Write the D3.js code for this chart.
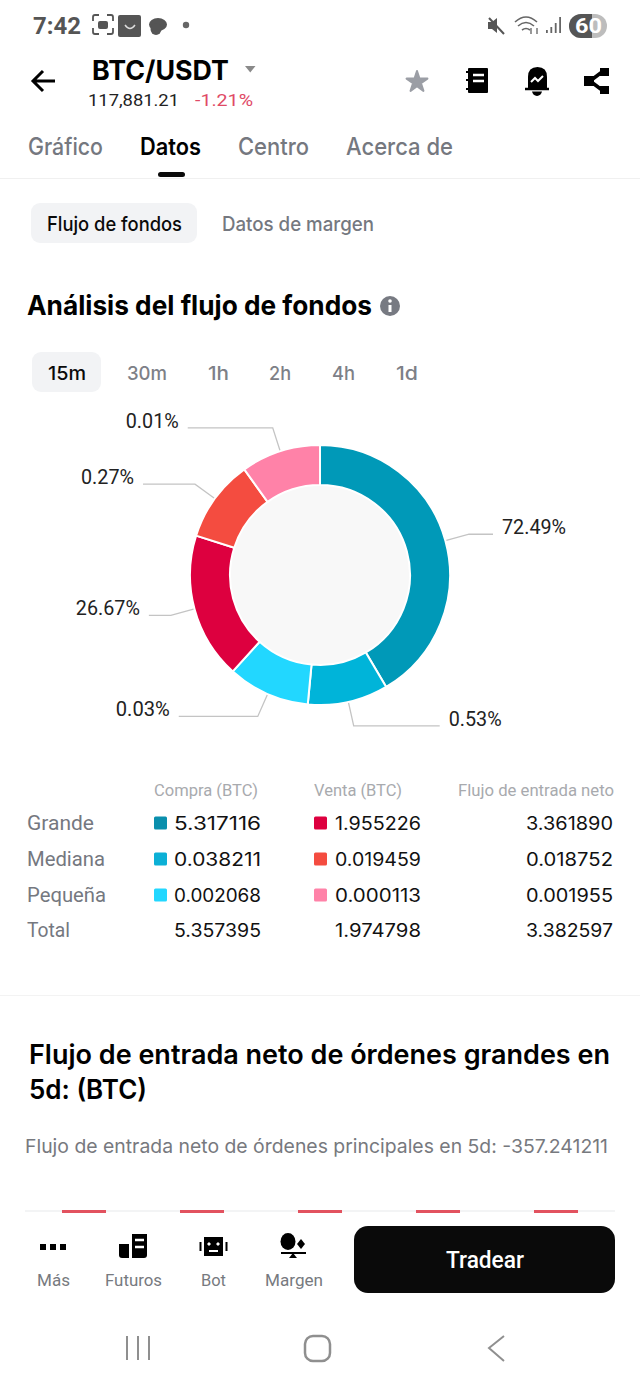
<!DOCTYPE html>
<html>
<head>
<meta charset="utf-8">
<title>BTC/USDT - Flujo de fondos</title>
<script src="https://cdn.jsdelivr.net/npm/d3@7/dist/d3.min.js"></script>
<style>
  html, body { margin: 0; padding: 0; background: #fff; }
  svg { display: block; }
  text { font-family: Inter, Roboto, "Noto Sans", sans-serif; }
</style>
</head>
<body>
<svg id="screen" width="640" height="1387"></svg>
<script>
// ===== DATA =====
const sliceNames = ["Compra grande", "Compra mediana", "Compra pequeña", "Venta grande", "Venta mediana", "Venta pequeña"];
const sliceShares = [72.49, 0.53, 0.03, 26.67, 0.27, 0.01];
// the ring does not draw the shares to scale, small ones get a floor.
const sliceWeights = [41.5, 10, 10.2, 18.2, 10.2, 9.9];

const tableRows = ["Grande", "Mediana", "Pequeña", "Total"];
const buyValues = ["5.317116", "0.038211", "0.002068", "5.357395"];
const sellValues = ["1.955226", "0.019459", "0.000113", "1.974798"];
const netValues = ["3.361890", "0.018752", "0.001955", "3.382597"];

const tabs = ["Gráfico", "Datos", "Centro", "Acerca de"];
const timeframes = ["15m", "30m", "1h", "2h", "4h", "1d"];
const navLabels = ["Más", "Futuros", "Bot", "Margen"];
const peekBars = ["d1", "d2", "d3", "d4", "d5"];

// ===== STYLE / LAYOUT =====
const sliceColors = ["#0099b8", "#00b4d9", "#22d7ff", "#dd003f", "#f44c40", "#ff82a8"];
const buyColors = ["#0a8fad", "#0cb0d6", "#22d7ff"];
const sellColors = ["#dd003f", "#f44c40", "#ff82a8"];
const leaderRuns = [24, 86, 79, 22, 52, 85];
const labelWidths = [64, 53, 54, 64, 53, 53];
const tabBoxes = [[28, 75], [140, 61], [238, 71], [346, 107]];
const timeBoxes = [[48, 38], [127, 40], [208, 21], [269, 22], [332, 23], [396, 22]];
const navBoxes = [[37, 33], [105, 57], [201, 25], [265, 58]];
const rowBaselines = [830, 866, 902, 937];

const svg = d3.select("#screen");

// text squeezed to the measured width, the screenshot is narrowed horizontally
function label(parent, str, x, y, width, size, fill, weight, family) {
  const t = parent.append("text")
    .attr("x", x)
    .attr("y", y)
    .attr("font-size", size)
    .attr("fill", fill)
    .attr("font-weight", weight || 400)
    .text(str);
  if (width) t.attr("textLength", width).attr("lengthAdjust", "spacingAndGlyphs");
  if (family) t.style("font-family", family);
  return t;
}

// ===== STATUS BAR =====
function drawStatusBar() {
  const g = svg.append("g");
  label(g, "7:42", 33, 34, 48, 24, "#555", 700, "Roboto");

  // screenshot glyph
  g.append("path").attr("d", "M93 21v-4q0-2 2-2h4M107 15h4q2 0 2 2v4M113 28v4q0 2-2 2h-4M99 34h-4q-2 0-2-2v-4")
    .attr("fill", "none").attr("stroke", "#555").attr("stroke-width", 1.8);
  g.append("rect").attr("x", 98).attr("y", 21).attr("width", 10).attr("height", 8).attr("rx", 2).attr("fill", "#555");
  // app badge
  g.append("rect").attr("x", 118).attr("y", 15).attr("width", 23).attr("height", 22).attr("rx", 2).attr("fill", "#555");
  g.append("path").attr("d", "M125 25q5 7 10 0").attr("fill", "none").attr("stroke", "#ddd").attr("stroke-width", 1.4);
  // chat bubbles
  g.append("ellipse").attr("cx", 158).attr("cy", 24.5).attr("rx", 9).attr("ry", 6.5).attr("fill", "#555");
  g.append("ellipse").attr("cx", 156).attr("cy", 29).attr("rx", 5.5).attr("ry", 6).attr("fill", "#555");
  g.append("circle").attr("cx", 186).attr("cy", 25).attr("r", 3.2).attr("fill", "#666");

  // mute
  g.append("path").attr("d", "M488 22h4l5-4v15l-5-4h-4z").attr("fill", "#555");
  g.append("path").attr("d", "M489 18l15 16").attr("stroke", "#555").attr("stroke-width", 2);
  // wifi
  g.append("path").attr("d", "M515 22q11-10 22 0M518 26q8-7 16 0M522 30q4-3 8 0")
    .attr("fill", "none").attr("stroke", "#666").attr("stroke-width", 1.6);
  g.append("path").attr("d", "M531 28v6M537 34v-6").attr("stroke", "#555").attr("stroke-width", 1.2);
  // signal
  g.selectAll(".sig").data([3, 6, 10, 16]).enter().append("rect")
    .attr("x", (d, i) => 546 + i * 4.4).attr("y", d => 33 - d)
    .attr("width", 1.8).attr("height", d => d).attr("fill", "#666");
  // battery
  g.append("rect").attr("x", 569).attr("y", 14).attr("width", 38).attr("height", 24).attr("rx", 12).attr("fill", "#bdbdbd");
  g.append("path").attr("d", "M581 14h11v24h-11a12 12 0 0 1 0-24z").attr("fill", "#555");
  label(g, "60", 575, 33, 27, 21, "#fff", 700, "Roboto");
}

// ===== HEADER =====
function drawHeader() {
  const g = svg.append("g");
  g.append("path").attr("d", "M55 81H34M43 71L33 81l10 10")
    .attr("fill", "none").attr("stroke", "#000").attr("stroke-width", 3);
  label(g, "BTC/USDT", 92, 80, 137, 27, "#000", 700);
  g.append("path").attr("d", "M245 66h10.500l-5.250 6.500z").attr("fill", "#8a8a8a");
  label(g, "117,881.21", 88, 106, 91, 16, "#222", 400, "Roboto");
  label(g, "-1.21%", 195, 106, 58, 16, "#df4a66", 400, "Roboto");

  // star
  const star = d3.symbol().type(d3.symbolStar).size(135);
  g.append("path").attr("d", star()).attr("transform", "translate(417,82)")
    .attr("fill", "#9b9ea5").attr("stroke", "#9b9ea5").attr("stroke-width", 2).attr("stroke-linejoin", "round");
  // notebook
  g.append("rect").attr("x", 468).attr("y", 68).attr("width", 20).attr("height", 25).attr("rx", 1).attr("fill", "#000");
  g.append("path").attr("d", "M466 72h4M466 80h4M466 89h4").attr("stroke", "#000").attr("stroke-width", 2);
  g.append("path").attr("d", "M473 75h11M473 81h11").attr("stroke", "#fff").attr("stroke-width", 2.5);
  // bell
  g.append("path").attr("d", "M528 88V77q0-10 9.500-10t9.500 10v11z").attr("fill", "#000");
  g.append("path").attr("d", "M525 89h24").attr("stroke", "#000").attr("stroke-width", 2.5);
  g.append("path").attr("d", "M532 91.500h10q-1 4-5 4.500q-4-.5-5-4.500z").attr("fill", "#000");
  g.append("path").attr("d", "M531 82l4-4 3 3 5-5").attr("fill", "none").attr("stroke", "#fff").attr("stroke-width", 2);
  // share
  g.append("path").attr("d", "M590 81l12-9M590 81l12 9").attr("stroke", "#000").attr("stroke-width", 3.500);
  g.append("rect").attr("x", 584).attr("y", 76).attr("width", 10).attr("height", 10).attr("fill", "#000");
  g.append("rect").attr("x", 600).attr("y", 68).attr("width", 9).attr("height", 8).attr("fill", "#000");
  g.append("rect").attr("x", 600).attr("y", 86).attr("width", 9).attr("height", 8).attr("fill", "#000");

  // tabs
  tabs.forEach((d, i) => {
    const on = d === "Datos";
    label(g, d, tabBoxes[i][0], 155, tabBoxes[i][1], 24, on ? "#000" : "#75787f", on ? 600 : 500);
  });
  g.append("rect").attr("x", 158).attr("y", 172).attr("width", 27).attr("height", 5).attr("rx", 2.5).attr("fill", "#0a0a0a");
  g.append("rect").attr("x", 0).attr("y", 178).attr("width", 640).attr("height", 1).attr("fill", "#f0f0f0");

  // sub tabs
  g.append("rect").attr("x", 31).attr("y", 203).attr("width", 166).attr("height", 40).attr("rx", 9).attr("fill", "#f2f3f5");
  label(g, "Flujo de fondos", 47, 231, 135, 20, "#0a0a0a", 500);
  label(g, "Datos de margen", 222, 231, 152, 20, "#75787f", 500);

  // section title
  label(g, "Análisis del flujo de fondos", 27, 315, 345, 27, "#000", 700);
  g.append("circle").attr("cx", 390).attr("cy", 306).attr("r", 10).attr("fill", "#777a82");
  g.append("rect").attr("x", 388.500).attr("y", 305).attr("width", 3).attr("height", 7).attr("fill", "#fff");
  g.append("circle").attr("cx", 390).attr("cy", 301).attr("r", 1.800).attr("fill", "#fff");

  // timeframes
  g.append("rect").attr("x", 32).attr("y", 352).attr("width", 69).attr("height", 40).attr("rx", 9).attr("fill", "#f2f3f5");
  timeframes.forEach((d, i) => {
    const on = d === "15m";
    label(g, d, timeBoxes[i][0], 380, timeBoxes[i][1], 19, on ? "#0a0a0a" : "#7d8087", 500);
  });
}

// ===== DONUT =====
function drawDonut() {
  const cx = 320, cy = 575, outerR = 130, innerR = 90, elbowR = 154.5, startR = 131;
  const g = svg.append("g").attr("transform", `translate(${cx},${cy})`);

  const pie = d3.pie().sort(null).value(d => d.weight);
  const arcs = pie(sliceNames.map((name, i) => ({ name, share: sliceShares[i], weight: sliceWeights[i], i })));
  const arc = d3.arc().innerRadius(innerR).outerRadius(outerR);

  g.append("circle").attr("r", innerR).attr("fill", "#f8f8f8");

  g.selectAll(".slice").data(arcs).enter().append("path")
    .attr("class", "slice")
    .attr("d", arc)
    .attr("fill", d => sliceColors[d.data.i])
    .attr("stroke", "#fff")
    .attr("stroke-width", 2);

  // leader lines go out along the middle of each slice, then run flat to the label
  const startArc = d3.arc().innerRadius(startR).outerRadius(startR);
  const elbowArc = d3.arc().innerRadius(elbowR).outerRadius(elbowR);
  const line = d3.line();

  arcs.forEach(d => {
    const i = d.data.i;
    const p0 = startArc.centroid(d);
    const p1 = elbowArc.centroid(d);
    const mid = (d.startAngle + d.endAngle) / 2;
    const right = mid < Math.PI;
    const p2 = [p1[0] + (right ? leaderRuns[i] : -leaderRuns[i]), p1[1]];

    g.append("path")
      .attr("d", line([p0, p1, p2]))
      .attr("fill", "none")
      .attr("stroke", "#c4c4c4")
      .attr("stroke-width", 1.3);

    const w = labelWidths[i];
    const x = right ? p2[0] + 9 : p2[0] - 9 - w;
    label(g, d.data.share.toFixed(2) + "%", x, p1[1], w, 20, "#222", 400, "Roboto");
  });
}

// ===== TABLE =====
function drawTable() {
  const g = svg.append("g");
  label(g, "Compra (BTC)", 154, 796, 104, 16, "#a8aaae", 400, "Roboto");
  label(g, "Venta (BTC)", 314, 796, 88, 16, "#a8aaae", 400, "Roboto");
  label(g, "Flujo de entrada neto", 458, 796, 156, 16, "#a8aaae", 400, "Roboto");

  const rowWidths = [67, 78, 79, 43];
  tableRows.forEach((row, i) => {
    const y = rowBaselines[i];
    label(g, row, 27, y, rowWidths[i], 20, "#75787f", 400, "Roboto");
    label(g, buyValues[i], 174, y, 87, 18, "#111", 400);
    label(g, sellValues[i], 335, y, 86, 18, "#111", 400);
    label(g, netValues[i], 526, y, 87, 18, "#111", 400);
    if (i < 3) {
      g.append("rect").attr("x", 154).attr("y", y - 13.5).attr("width", 13).attr("height", 13).attr("rx", 1.500).attr("fill", buyColors[i]);
      g.append("rect").attr("x", 314).attr("y", y - 13.5).attr("width", 13).attr("height", 13).attr("rx", 1.500).attr("fill", sellColors[i]);
    }
  });
  g.append("rect").attr("x", 0).attr("y", 995).attr("width", 640).attr("height", 1).attr("fill", "#f3f3f3");
}

// ===== LOWER SECTION =====
function drawLower() {
  const g = svg.append("g");
  label(g, "Flujo de entrada neto de órdenes grandes en", 29, 1064, 581, 27, "#000", 600);
  label(g, "5d: (BTC)", 29, 1099, 118, 27, "#000", 600);
  label(g, "Flujo de entrada neto de órdenes principales en 5d: -357.241211", 25, 1153, 583, 19, "#77797e", 400);

  // top of the next chart, just peeking out above the bar
  g.append("rect").attr("x", 25).attr("y", 1210).attr("width", 590).attr("height", 2).attr("fill", "#f3f4f5");
  const x = d3.scaleBand().domain(peekBars).range([25, 615]).paddingInner(0.627).paddingOuter(0.3135);
  g.selectAll(".peek").data(peekBars).enter().append("rect")
    .attr("class", "peek")
    .attr("x", d => x(d))
    .attr("y", 1210)
    .attr("width", x.bandwidth())
    .attr("height", 3)
    .attr("fill", "#e2525f");
}

// ===== BOTTOM BAR =====
function drawBottomBar() {
  const g = svg.append("g");
  g.append("rect").attr("x", 0).attr("y", 1213).attr("width", 640).attr("height", 174).attr("fill", "#fff");

  navLabels.forEach((d, i) => label(g, d, navBoxes[i][0], 1286, navBoxes[i][1], 16, "#777a80", 400, "Roboto"));

  // dots
  [40, 50, 60].forEach(x => g.append("rect").attr("x", x).attr("y", 1244).attr("width", 6).attr("height", 6).attr("fill", "#000"));
  // futures
  g.append("path").attr("d", "M132 1234h15v21q0 3-3 3h-12z").attr("fill", "#000");
  g.append("path").attr("d", "M119 1244h10v14h-7q-3 0-3-3z").attr("fill", "#000");
  g.append("path").attr("d", "M135 1240h9M135 1247h9").attr("stroke", "#fff").attr("stroke-width", 2.5);
  // bot
  g.append("rect").attr("x", 204).attr("y", 1237).attr("width", 19).attr("height", 19).attr("fill", "#000");
  g.append("path").attr("d", "M200.500 1242v9M226.500 1242v9").attr("stroke", "#000").attr("stroke-width", 2);
  g.append("path").attr("d", "M209 1242l2 2-2 2-2-2zM218 1242l2 2-2 2-2-2z").attr("fill", "#fff");
  g.append("path").attr("d", "M209 1251h9").attr("stroke", "#fff").attr("stroke-width", 2);
  // margin
  g.append("ellipse").attr("cx", 288).attr("cy", 1241.500).attr("rx", 7.500).attr("ry", 8.500).attr("fill", "#000");
  g.append("path").attr("d", "M301 1239l4 5-4 5-4-5z").attr("fill", "#000");
  g.append("path").attr("d", "M281 1253h25").attr("stroke", "#000").attr("stroke-width", 2);
  g.append("path").attr("d", "M293 1253l4 5h-8z").attr("fill", "#000");

  g.append("rect").attr("x", 354).attr("y", 1226).attr("width", 261).attr("height", 67).attr("rx", 14).attr("fill", "#0a0a0a");
  label(g, "Tradear", 446, 1268, 78, 24, "#fff", 500, "Roboto");

  // android nav
  g.append("path").attr("d", "M127 1336v24M138 1336v24M149 1336v24").attr("stroke", "#8f8f8f").attr("stroke-width", 2);
  g.append("rect").attr("x", 305).attr("y", 1336).attr("width", 25).attr("height", 25).attr("rx", 8)
    .attr("fill", "none").attr("stroke", "#8f8f8f").attr("stroke-width", 2.500);
  g.append("path").attr("d", "M504 1336l-15 12 15 13").attr("fill", "none").attr("stroke", "#8f8f8f").attr("stroke-width", 2);
}

drawStatusBar();
drawHeader();
drawDonut();
drawTable();
drawLower();
drawBottomBar();
</script>
</body>
</html>
